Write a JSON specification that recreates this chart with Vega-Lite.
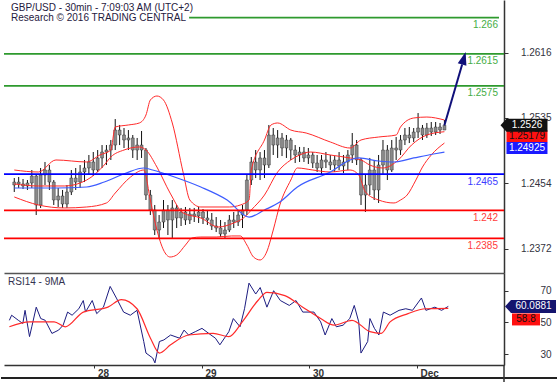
{
"$schema":"https://vega.github.io/schema/vega-lite/v6.json",
"padding":0,
"background":"#ffffff",
"spacing":0,
"config":{"view":{"stroke":null},"font":"Liberation Sans","text":{"font":"Liberation Sans"}},
"datasets":{
"bars":[
{"t":"2016-11-27T05:00","open":1.24515,"high":1.24602,"low":1.24428,"close":1.24552},
{"t":"2016-11-27T06:00","open":1.24552,"high":1.24615,"low":1.24478,"close":1.24528},
{"t":"2016-11-27T07:00","open":1.24528,"high":1.2459,"low":1.24465,"close":1.24503},
{"t":"2016-11-27T08:00","open":1.24503,"high":1.24577,"low":1.24453,"close":1.2454},
{"t":"2016-11-27T09:00","open":1.2454,"high":1.24702,"low":1.24478,"close":1.24627},
{"t":"2016-11-27T10:00","open":1.24627,"high":1.2464,"low":1.24141,"close":1.24266},
{"t":"2016-11-27T11:00","open":1.24266,"high":1.24727,"low":1.24229,"close":1.2464},
{"t":"2016-11-27T12:00","open":1.2464,"high":1.24802,"low":1.24515,"close":1.24702},
{"t":"2016-11-27T13:00","open":1.24702,"high":1.24764,"low":1.24453,"close":1.24552},
{"t":"2016-11-27T14:00","open":1.24552,"high":1.24577,"low":1.24266,"close":1.24328},
{"t":"2016-11-27T15:00","open":1.24328,"high":1.24478,"low":1.24241,"close":1.24378},
{"t":"2016-11-27T16:00","open":1.24378,"high":1.24453,"low":1.24229,"close":1.24278},
{"t":"2016-11-27T17:00","open":1.24278,"high":1.24515,"low":1.24229,"close":1.24428},
{"t":"2016-11-27T18:00","open":1.24428,"high":1.24702,"low":1.2439,"close":1.24602},
{"t":"2016-11-27T19:00","open":1.24602,"high":1.24727,"low":1.24453,"close":1.24552},
{"t":"2016-11-27T20:00","open":1.24552,"high":1.24764,"low":1.24478,"close":1.24677},
{"t":"2016-11-27T21:00","open":1.24677,"high":1.24827,"low":1.24552,"close":1.24727},
{"t":"2016-11-27T22:00","open":1.24727,"high":1.24889,"low":1.2464,"close":1.24802},
{"t":"2016-11-27T23:00","open":1.24802,"high":1.24926,"low":1.24627,"close":1.24702},
{"t":"2016-11-28T00:00","open":1.24702,"high":1.24951,"low":1.24677,"close":1.24852},
{"t":"2016-11-28T01:00","open":1.24852,"high":1.25013,"low":1.24727,"close":1.24926},
{"t":"2016-11-28T02:00","open":1.24926,"high":1.25013,"low":1.24764,"close":1.24951},
{"t":"2016-11-28T03:00","open":1.24951,"high":1.25076,"low":1.24827,"close":1.25013},
{"t":"2016-11-28T04:00","open":1.25013,"high":1.25337,"low":1.24951,"close":1.252},
{"t":"2016-11-28T05:00","open":1.252,"high":1.25263,"low":1.25013,"close":1.25138},
{"t":"2016-11-28T06:00","open":1.25138,"high":1.25225,"low":1.24976,"close":1.25076},
{"t":"2016-11-28T07:00","open":1.25076,"high":1.252,"low":1.24951,"close":1.25101},
{"t":"2016-11-28T08:00","open":1.25101,"high":1.25138,"low":1.24852,"close":1.24951},
{"t":"2016-11-28T09:00","open":1.24951,"high":1.25101,"low":1.24827,"close":1.25013},
{"t":"2016-11-28T10:00","open":1.25013,"high":1.25188,"low":1.24852,"close":1.24951},
{"t":"2016-11-28T11:00","open":1.24951,"high":1.24976,"low":1.24328,"close":1.2439},
{"t":"2016-11-28T12:00","open":1.2439,"high":1.24453,"low":1.24141,"close":1.24204},
{"t":"2016-11-28T13:00","open":1.24204,"high":1.24266,"low":1.23892,"close":1.23954},
{"t":"2016-11-28T14:00","open":1.23954,"high":1.24141,"low":1.23855,"close":1.24054},
{"t":"2016-11-28T15:00","open":1.24054,"high":1.24328,"low":1.23979,"close":1.24204},
{"t":"2016-11-28T16:00","open":1.24204,"high":1.24266,"low":1.23892,"close":1.24079},
{"t":"2016-11-28T17:00","open":1.24079,"high":1.24328,"low":1.23855,"close":1.24229},
{"t":"2016-11-28T18:00","open":1.24229,"high":1.24266,"low":1.23979,"close":1.24104},
{"t":"2016-11-28T19:00","open":1.24104,"high":1.24229,"low":1.24004,"close":1.24179},
{"t":"2016-11-28T20:00","open":1.24179,"high":1.24241,"low":1.24017,"close":1.24079},
{"t":"2016-11-28T21:00","open":1.24079,"high":1.24229,"low":1.24029,"close":1.24154},
{"t":"2016-11-28T22:00","open":1.24154,"high":1.24229,"low":1.24054,"close":1.24129},
{"t":"2016-11-28T23:00","open":1.24129,"high":1.24241,"low":1.24042,"close":1.24179},
{"t":"2016-11-29T00:00","open":1.24179,"high":1.24216,"low":1.24029,"close":1.24104},
{"t":"2016-11-29T01:00","open":1.24104,"high":1.24204,"low":1.24017,"close":1.24079},
{"t":"2016-11-29T02:00","open":1.24079,"high":1.24166,"low":1.23954,"close":1.24004},
{"t":"2016-11-29T03:00","open":1.24004,"high":1.24116,"low":1.23929,"close":1.23979},
{"t":"2016-11-29T04:00","open":1.23979,"high":1.24079,"low":1.23867,"close":1.23905},
{"t":"2016-11-29T05:00","open":1.23905,"high":1.24054,"low":1.23855,"close":1.23954},
{"t":"2016-11-29T06:00","open":1.23954,"high":1.24141,"low":1.23929,"close":1.24079},
{"t":"2016-11-29T07:00","open":1.24079,"high":1.24179,"low":1.23979,"close":1.24054},
{"t":"2016-11-29T08:00","open":1.24054,"high":1.24204,"low":1.24004,"close":1.24141},
{"t":"2016-11-29T09:00","open":1.24141,"high":1.24266,"low":1.23979,"close":1.24204},
{"t":"2016-11-29T10:00","open":1.24204,"high":1.2464,"low":1.24141,"close":1.24577},
{"t":"2016-11-29T11:00","open":1.24577,"high":1.24864,"low":1.24515,"close":1.24802},
{"t":"2016-11-29T12:00","open":1.24802,"high":1.24951,"low":1.24602,"close":1.24702},
{"t":"2016-11-29T13:00","open":1.24702,"high":1.24926,"low":1.24577,"close":1.24852},
{"t":"2016-11-29T14:00","open":1.24852,"high":1.24951,"low":1.24602,"close":1.24764},
{"t":"2016-11-29T15:00","open":1.24764,"high":1.25263,"low":1.24727,"close":1.25138},
{"t":"2016-11-29T16:00","open":1.25138,"high":1.25225,"low":1.24889,"close":1.25013},
{"t":"2016-11-29T17:00","open":1.25013,"high":1.252,"low":1.24852,"close":1.25101},
{"t":"2016-11-29T18:00","open":1.25101,"high":1.25163,"low":1.24876,"close":1.24976},
{"t":"2016-11-29T19:00","open":1.24976,"high":1.25138,"low":1.24852,"close":1.25076},
{"t":"2016-11-29T20:00","open":1.25076,"high":1.25101,"low":1.24827,"close":1.24951},
{"t":"2016-11-29T21:00","open":1.24951,"high":1.25013,"low":1.24789,"close":1.24889},
{"t":"2016-11-29T22:00","open":1.24889,"high":1.24989,"low":1.24802,"close":1.24926},
{"t":"2016-11-29T23:00","open":1.24926,"high":1.24989,"low":1.24802,"close":1.24852},
{"t":"2016-11-30T00:00","open":1.24852,"high":1.24976,"low":1.24777,"close":1.24889},
{"t":"2016-11-30T01:00","open":1.24889,"high":1.24926,"low":1.24727,"close":1.24789},
{"t":"2016-11-30T02:00","open":1.24789,"high":1.24889,"low":1.24677,"close":1.24727},
{"t":"2016-11-30T03:00","open":1.24727,"high":1.24889,"low":1.24652,"close":1.24827},
{"t":"2016-11-30T04:00","open":1.24827,"high":1.24926,"low":1.24727,"close":1.24802},
{"t":"2016-11-30T05:00","open":1.24802,"high":1.24889,"low":1.24702,"close":1.24764},
{"t":"2016-11-30T06:00","open":1.24764,"high":1.24876,"low":1.24677,"close":1.24827},
{"t":"2016-11-30T07:00","open":1.24827,"high":1.24926,"low":1.24702,"close":1.24752},
{"t":"2016-11-30T08:00","open":1.24752,"high":1.24889,"low":1.24665,"close":1.24802},
{"t":"2016-11-30T09:00","open":1.24802,"high":1.24951,"low":1.24702,"close":1.24889},
{"t":"2016-11-30T10:00","open":1.24889,"high":1.25163,"low":1.24789,"close":1.25013},
{"t":"2016-11-30T11:00","open":1.25013,"high":1.25076,"low":1.24764,"close":1.24827},
{"t":"2016-11-30T12:00","open":1.24827,"high":1.24852,"low":1.24266,"close":1.2439},
{"t":"2016-11-30T13:00","open":1.2439,"high":1.2464,"low":1.24179,"close":1.24515},
{"t":"2016-11-30T14:00","open":1.24515,"high":1.24852,"low":1.2439,"close":1.24702},
{"t":"2016-11-30T15:00","open":1.24702,"high":1.24827,"low":1.24328,"close":1.24453},
{"t":"2016-11-30T16:00","open":1.24453,"high":1.24889,"low":1.24291,"close":1.24764},
{"t":"2016-11-30T17:00","open":1.24764,"high":1.25076,"low":1.2464,"close":1.24951},
{"t":"2016-11-30T18:00","open":1.24951,"high":1.25013,"low":1.24577,"close":1.24702},
{"t":"2016-11-30T19:00","open":1.24702,"high":1.25076,"low":1.24677,"close":1.24976},
{"t":"2016-11-30T20:00","open":1.24976,"high":1.25113,"low":1.24827,"close":1.24951},
{"t":"2016-11-30T21:00","open":1.24951,"high":1.25138,"low":1.24889,"close":1.25076},
{"t":"2016-11-30T22:00","open":1.25076,"high":1.25225,"low":1.25013,"close":1.25138},
{"t":"2016-11-30T23:00","open":1.25138,"high":1.25238,"low":1.25038,"close":1.25101},
{"t":"2016-12-01T00:00","open":1.25101,"high":1.25225,"low":1.25051,"close":1.25175},
{"t":"2016-12-01T01:00","open":1.25175,"high":1.25412,"low":1.25101,"close":1.25225},
{"t":"2016-12-01T02:00","open":1.25225,"high":1.25263,"low":1.25076,"close":1.25138},
{"t":"2016-12-01T03:00","open":1.25138,"high":1.25288,"low":1.25101,"close":1.25225},
{"t":"2016-12-01T04:00","open":1.25225,"high":1.253,"low":1.25126,"close":1.25175},
{"t":"2016-12-01T05:00","open":1.25175,"high":1.253,"low":1.25138,"close":1.25238},
{"t":"2016-12-01T06:00","open":1.25238,"high":1.25288,"low":1.25151,"close":1.252},
{"t":"2016-12-01T07:00","open":1.252,"high":1.25325,"low":1.252,"close":1.2526}
],
"upper":[
{"t":"2016-11-27T05:00","v":1.24702},{"t":"2016-11-27T10:30","v":1.24677},{"t":"2016-11-27T14:30","v":1.24827},{"t":"2016-11-27T21:30","v":1.24802},{"t":"2016-11-28T00:30","v":1.24889},{"t":"2016-11-28T03:00","v":1.24951},{"t":"2016-11-28T04:00","v":1.25238},{"t":"2016-11-28T07:00","v":1.25263},{"t":"2016-11-28T09:30","v":1.25288},{"t":"2016-11-28T11:00","v":1.25387},{"t":"2016-11-28T12:00","v":1.25574},{"t":"2016-11-28T13:30","v":1.25624},{"t":"2016-11-28T15:00","v":1.25574},{"t":"2016-11-28T17:00","v":1.25288},{"t":"2016-11-28T19:30","v":1.24665},{"t":"2016-11-28T21:00","v":1.24328},{"t":"2016-11-28T23:30","v":1.24241},{"t":"2016-11-29T06:00","v":1.24241},{"t":"2016-11-29T08:30","v":1.24266},{"t":"2016-11-29T10:30","v":1.24328},{"t":"2016-11-29T11:00","v":1.24702},{"t":"2016-11-29T14:00","v":1.25076},{"t":"2016-11-29T15:30","v":1.25263},{"t":"2016-11-29T17:00","v":1.25288},{"t":"2016-11-29T20:00","v":1.252},{"t":"2016-11-29T23:30","v":1.25163},{"t":"2016-11-30T05:00","v":1.25051},{"t":"2016-11-30T09:30","v":1.24976},{"t":"2016-11-30T12:00","v":1.25076},{"t":"2016-11-30T16:00","v":1.25113},{"t":"2016-11-30T20:00","v":1.25138},{"t":"2016-11-30T21:00","v":1.25238},{"t":"2016-12-01T00:00","v":1.2535},{"t":"2016-12-01T03:00","v":1.25362},{"t":"2016-12-01T07:00","v":1.25325}
],
"middle":[
{"t":"2016-11-27T05:00","v":1.24528},{"t":"2016-11-27T10:30","v":1.24503},{"t":"2016-11-27T16:30","v":1.24503},{"t":"2016-11-27T21:30","v":1.24577},{"t":"2016-11-28T01:30","v":1.24764},{"t":"2016-11-28T03:00","v":1.24864},{"t":"2016-11-28T06:00","v":1.24951},{"t":"2016-11-28T09:30","v":1.24989},{"t":"2016-11-28T11:00","v":1.24951},{"t":"2016-11-28T13:30","v":1.24739},{"t":"2016-11-28T16:30","v":1.24415},{"t":"2016-11-28T19:30","v":1.24166},{"t":"2016-11-28T23:30","v":1.24104},{"t":"2016-11-29T03:30","v":1.23992},{"t":"2016-11-29T07:00","v":1.24042},{"t":"2016-11-29T09:30","v":1.24116},{"t":"2016-11-29T11:00","v":1.24204},{"t":"2016-11-29T14:00","v":1.2439},{"t":"2016-11-29T17:00","v":1.24677},{"t":"2016-11-29T20:00","v":1.24827},{"t":"2016-11-29T22:00","v":1.24889},{"t":"2016-11-30T00:30","v":1.24926},{"t":"2016-11-30T05:00","v":1.24889},{"t":"2016-11-30T09:30","v":1.24852},{"t":"2016-11-30T12:00","v":1.24827},{"t":"2016-11-30T14:00","v":1.24764},{"t":"2016-11-30T17:00","v":1.24727},{"t":"2016-11-30T20:30","v":1.24827},{"t":"2016-11-30T23:30","v":1.25013},{"t":"2016-12-01T03:00","v":1.25138},{"t":"2016-12-01T07:00","v":1.25179}
],
"lower":[
{"t":"2016-11-27T05:00","v":1.24366},{"t":"2016-11-27T10:30","v":1.24266},{"t":"2016-11-27T16:30","v":1.24229},{"t":"2016-11-27T21:30","v":1.24241},{"t":"2016-11-28T02:00","v":1.24291},{"t":"2016-11-28T04:00","v":1.24415},{"t":"2016-11-28T07:30","v":1.24615},{"t":"2016-11-28T10:30","v":1.24702},{"t":"2016-11-28T12:00","v":1.24328},{"t":"2016-11-28T13:30","v":1.23954},{"t":"2016-11-28T15:00","v":1.23705},{"t":"2016-11-28T16:30","v":1.23618},{"t":"2016-11-28T18:00","v":1.23643},{"t":"2016-11-28T20:00","v":1.23767},{"t":"2016-11-28T21:30","v":1.23855},{"t":"2016-11-28T23:30","v":1.23867},{"t":"2016-11-29T03:00","v":1.23867},{"t":"2016-11-29T06:30","v":1.2388},{"t":"2016-11-29T08:30","v":1.2388},{"t":"2016-11-29T10:00","v":1.23767},{"t":"2016-11-29T11:30","v":1.23618},{"t":"2016-11-29T13:00","v":1.23581},{"t":"2016-11-29T14:30","v":1.2368},{"t":"2016-11-29T16:00","v":1.23954},{"t":"2016-11-29T17:30","v":1.24266},{"t":"2016-11-29T20:00","v":1.24577},{"t":"2016-11-29T21:30","v":1.24727},{"t":"2016-11-30T01:00","v":1.24702},{"t":"2016-11-30T05:00","v":1.24677},{"t":"2016-11-30T09:30","v":1.24702},{"t":"2016-11-30T11:30","v":1.2464},{"t":"2016-11-30T13:00","v":1.24428},{"t":"2016-11-30T16:00","v":1.24328},{"t":"2016-11-30T19:30","v":1.24291},{"t":"2016-11-30T21:00","v":1.24328},{"t":"2016-11-30T22:30","v":1.2439},{"t":"2016-12-01T00:30","v":1.24577},{"t":"2016-12-01T02:00","v":1.24739},{"t":"2016-12-01T04:00","v":1.24889},{"t":"2016-12-01T07:00","v":1.25038}
],
"ma":[
{"t":"2016-11-27T05:00","v":1.24478},{"t":"2016-11-27T14:30","v":1.24478},{"t":"2016-11-27T21:30","v":1.2449},{"t":"2016-11-28T01:30","v":1.24552},{"t":"2016-11-28T06:30","v":1.24665},{"t":"2016-11-28T10:30","v":1.24727},{"t":"2016-11-28T12:30","v":1.24702},{"t":"2016-11-28T17:30","v":1.24615},{"t":"2016-11-28T23:30","v":1.2449},{"t":"2016-11-29T05:30","v":1.24328},{"t":"2016-11-29T10:30","v":1.24116},{"t":"2016-11-29T14:00","v":1.24204},{"t":"2016-11-29T17:30","v":1.24303},{"t":"2016-11-29T21:30","v":1.2449},{"t":"2016-11-30T05:00","v":1.24677},{"t":"2016-11-30T09:30","v":1.24827},{"t":"2016-11-30T11:30","v":1.24852},{"t":"2016-11-30T16:00","v":1.24814},{"t":"2016-11-30T19:30","v":1.24802},{"t":"2016-12-01T00:00","v":1.24852},{"t":"2016-12-01T04:30","v":1.24901},{"t":"2016-12-01T07:00","v":1.24925}
],
"levels":[
{"v":1.266,"type":"resistance"},{"v":1.2615,"type":"resistance"},{"v":1.2575,"type":"resistance"},{"v":1.2465,"type":"pivot"},{"v":1.242,"type":"support"},{"v":1.2385,"type":"support"}
],
"arrow":[{"t":"2016-12-01T07:00","v":1.2526},{"t":"2016-12-01T11:02","v":1.26017}],
"arrowTip":[{"t":"2016-12-01T11:50","v":1.26172}],
"rsi":[
{"t":"2016-11-27T05:00","v":51.3},{"t":"2016-11-27T05:30","v":54.5},{"t":"2016-11-27T07:00","v":51.3},{"t":"2016-11-27T08:00","v":49.3},{"t":"2016-11-27T08:30","v":57.6},{"t":"2016-11-27T09:30","v":41},{"t":"2016-11-27T10:00","v":47.2},{"t":"2016-11-27T11:00","v":59.6},{"t":"2016-11-27T12:00","v":52.4},{"t":"2016-11-27T13:00","v":51.3},{"t":"2016-11-27T14:30","v":43},{"t":"2016-11-27T16:00","v":45.1},{"t":"2016-11-27T17:00","v":48.2},{"t":"2016-11-27T18:00","v":56.5},{"t":"2016-11-27T19:00","v":54.5},{"t":"2016-11-27T20:30","v":58.6},{"t":"2016-11-27T21:30","v":63.8},{"t":"2016-11-27T22:00","v":56.5},{"t":"2016-11-27T23:30","v":63.8},{"t":"2016-11-28T00:30","v":55.5},{"t":"2016-11-28T02:00","v":59.6},{"t":"2016-11-28T03:30","v":72.7},{"t":"2016-11-28T05:00","v":64.8},{"t":"2016-11-28T06:30","v":56.5},{"t":"2016-11-28T08:00","v":54.5},{"t":"2016-11-28T09:30","v":57.6},{"t":"2016-11-28T11:00","v":37.9},{"t":"2016-11-28T11:30","v":30.6},{"t":"2016-11-28T13:00","v":27.5},{"t":"2016-11-28T13:30","v":24.4},{"t":"2016-11-28T14:30","v":37.9},{"t":"2016-11-28T15:30","v":38.9},{"t":"2016-11-28T17:00","v":42},{"t":"2016-11-28T19:00","v":40},{"t":"2016-11-28T20:00","v":45.1},{"t":"2016-11-28T21:00","v":42},{"t":"2016-11-28T22:30","v":44.1},{"t":"2016-11-29T00:00","v":46.2},{"t":"2016-11-29T02:00","v":42},{"t":"2016-11-29T03:00","v":40},{"t":"2016-11-29T04:00","v":35.8},{"t":"2016-11-29T06:00","v":44.1},{"t":"2016-11-29T07:00","v":52.4},{"t":"2016-11-29T08:30","v":47.2},{"t":"2016-11-29T09:30","v":58.6},{"t":"2016-11-29T10:30","v":74.8},{"t":"2016-11-29T12:00","v":67.9},{"t":"2016-11-29T13:00","v":72},{"t":"2016-11-29T14:30","v":59.6},{"t":"2016-11-29T16:00","v":70},{"t":"2016-11-29T17:30","v":63.8},{"t":"2016-11-29T19:30","v":60.7},{"t":"2016-11-29T21:00","v":63.8},{"t":"2016-11-29T22:30","v":56.5},{"t":"2016-11-30T01:00","v":56.5},{"t":"2016-11-30T02:30","v":50.3},{"t":"2016-11-30T03:30","v":42},{"t":"2016-11-30T05:00","v":52.4},{"t":"2016-11-30T06:00","v":47.2},{"t":"2016-11-30T07:30","v":48.2},{"t":"2016-11-30T09:00","v":52.4},{"t":"2016-11-30T10:00","v":60.7},{"t":"2016-11-30T11:00","v":50.3},{"t":"2016-11-30T11:30","v":30.6},{"t":"2016-11-30T13:00","v":37.9},{"t":"2016-11-30T13:30","v":52.4},{"t":"2016-11-30T14:30","v":46.2},{"t":"2016-11-30T15:30","v":42},{"t":"2016-11-30T16:30","v":56.5},{"t":"2016-11-30T18:00","v":54.5},{"t":"2016-11-30T20:00","v":57.6},{"t":"2016-11-30T21:30","v":58.6},{"t":"2016-11-30T23:00","v":57.6},{"t":"2016-12-01T01:00","v":65.4},{"t":"2016-12-01T02:00","v":57.6},{"t":"2016-12-01T04:00","v":59.6},{"t":"2016-12-01T05:30","v":57.6},{"t":"2016-12-01T07:00","v":60.0881}
],
"rsima":[
{"t":"2016-11-27T05:00","v":47.2},{"t":"2016-11-27T09:30","v":50.3},{"t":"2016-11-27T15:00","v":50.3},{"t":"2016-11-27T17:30","v":47.2},{"t":"2016-11-27T21:30","v":56.5},{"t":"2016-11-28T03:00","v":59.6},{"t":"2016-11-28T06:00","v":64.4},{"t":"2016-11-28T09:30","v":58.6},{"t":"2016-11-28T12:30","v":40},{"t":"2016-11-28T14:30","v":30.6},{"t":"2016-11-28T17:00","v":35.8},{"t":"2016-11-28T21:00","v":42},{"t":"2016-11-29T02:30","v":43},{"t":"2016-11-29T06:00","v":41},{"t":"2016-11-29T09:00","v":50.3},{"t":"2016-11-29T12:30","v":63.8},{"t":"2016-11-29T14:30","v":69},{"t":"2016-11-29T18:30","v":66.9},{"t":"2016-11-29T22:30","v":59.6},{"t":"2016-11-30T02:30","v":52.4},{"t":"2016-11-30T05:30","v":48.2},{"t":"2016-11-30T09:30","v":51.3},{"t":"2016-11-30T13:30","v":44.1},{"t":"2016-11-30T16:00","v":43},{"t":"2016-11-30T18:00","v":50.3},{"t":"2016-11-30T22:00","v":55.5},{"t":"2016-12-01T02:00","v":58.6},{"t":"2016-12-01T07:00","v":58.8}
]
},
"vconcat":[
{
"width":500,"height":273,
"data":{"values":[{}]},
"layer":[
{"data":{"name":"bars"},"mark":{"type":"rule","color":"#111111","strokeWidth":1},
 "encoding":{
  "x":{"field":"t","type":"temporal","scale":{"domain":[{"year":2016,"month":11,"date":27,"hours":3,"minutes":48},{"year":2016,"month":12,"date":1,"hours":19,"minutes":26}]},
       "axis":{"orient":"bottom","labels":false,"ticks":false,"domain":true,"domainColor":"#555555","domainWidth":1.5,"title":null,"grid":false}},
  "y":{"field":"low","type":"quantitative","scale":{"domain":[1.234185,1.268204],"nice":false,"zero":false},
       "axis":{"orient":"right","values":[1.2372,1.2454,1.2535,1.2616],"format":".4f","title":null,"grid":false,"domainColor":"#333333","domainWidth":1.5,"tickColor":"#333333","tickSize":4,"labelAlign":"right","labelBaseline":"middle","labelPadding":43,"labelFontSize":10,"labelColor":"#333340","labelFlush":false,"labelOverlap":false}},
  "y2":{"field":"high"}}},
{"data":{"name":"bars"},"mark":{"type":"bar","width":3,"color":"#8a8a8a","stroke":"#222222","strokeWidth":0.4},
 "encoding":{
  "x":{"field":"t","type":"temporal","scale":{"domain":[{"year":2016,"month":11,"date":27,"hours":3,"minutes":48},{"year":2016,"month":12,"date":1,"hours":19,"minutes":26}]}},
  "y":{"field":"open","type":"quantitative","scale":{"domain":[1.234185,1.268204],"nice":false,"zero":false}},
  "y2":{"field":"close"}}},
{"data":{"name":"upper"},"mark":{"type":"line","color":"#ff2a2a","strokeWidth":1,"interpolate":"monotone"},
 "encoding":{"x":{"field":"t","type":"temporal","scale":{"domain":[{"year":2016,"month":11,"date":27,"hours":3,"minutes":48},{"year":2016,"month":12,"date":1,"hours":19,"minutes":26}]}},
  "y":{"field":"v","type":"quantitative","scale":{"domain":[1.234185,1.268204],"nice":false,"zero":false}}}},
{"data":{"name":"middle"},"mark":{"type":"line","color":"#ff2a2a","strokeWidth":1,"interpolate":"monotone"},
 "encoding":{"x":{"field":"t","type":"temporal","scale":{"domain":[{"year":2016,"month":11,"date":27,"hours":3,"minutes":48},{"year":2016,"month":12,"date":1,"hours":19,"minutes":26}]}},
  "y":{"field":"v","type":"quantitative","scale":{"domain":[1.234185,1.268204],"nice":false,"zero":false}}}},
{"data":{"name":"lower"},"mark":{"type":"line","color":"#ff2a2a","strokeWidth":1,"interpolate":"monotone"},
 "encoding":{"x":{"field":"t","type":"temporal","scale":{"domain":[{"year":2016,"month":11,"date":27,"hours":3,"minutes":48},{"year":2016,"month":12,"date":1,"hours":19,"minutes":26}]}},
  "y":{"field":"v","type":"quantitative","scale":{"domain":[1.234185,1.268204],"nice":false,"zero":false}}}},
{"data":{"name":"ma"},"mark":{"type":"line","color":"#3d5cff","strokeWidth":1.2,"interpolate":"monotone"},
 "encoding":{"x":{"field":"t","type":"temporal","scale":{"domain":[{"year":2016,"month":11,"date":27,"hours":3,"minutes":48},{"year":2016,"month":12,"date":1,"hours":19,"minutes":26}]}},
  "y":{"field":"v","type":"quantitative","scale":{"domain":[1.234185,1.268204],"nice":false,"zero":false}}}},
{"data":{"name":"levels"},"transform":[{"filter":"datum.v != 1.266"}],"mark":{"type":"rule","strokeWidth":1.8},
 "encoding":{"y":{"field":"v","type":"quantitative","scale":{"domain":[1.234185,1.268204],"nice":false,"zero":false}},
  "stroke":{"field":"type","type":"nominal","scale":{"domain":["resistance","pivot","support"],"range":["#2e9a2e","#0000ff","#ff0000"]},"legend":null}}},
{"data":{"name":"levels"},"transform":[{"filter":"datum.v == 1.266"}],"mark":{"type":"rule","strokeWidth":1.8,"color":"#2e9a2e"},
 "encoding":{"x":{"datum":{"year":2016,"month":11,"date":28,"hours":20,"minutes":50},"type":"temporal","scale":{"domain":[{"year":2016,"month":11,"date":27,"hours":3,"minutes":48},{"year":2016,"month":12,"date":1,"hours":19,"minutes":26}]}},
  "x2":{"datum":{"year":2016,"month":12,"date":1,"hours":19,"minutes":26}},
  "y":{"field":"v","type":"quantitative","scale":{"domain":[1.234185,1.268204],"nice":false,"zero":false}}}},
{"data":{"name":"levels"},"mark":{"type":"text","align":"right","baseline":"top","dx":-1,"dy":2.5,"fontSize":10},
 "encoding":{"x":{"datum":{"year":2016,"month":12,"date":1,"hours":19,"minutes":26},"type":"temporal","scale":{"domain":[{"year":2016,"month":11,"date":27,"hours":3,"minutes":48},{"year":2016,"month":12,"date":1,"hours":19,"minutes":26}]}},
  "y":{"field":"v","type":"quantitative","scale":{"domain":[1.234185,1.268204],"nice":false,"zero":false}},
  "text":{"field":"v","type":"quantitative","format":"~g"},
  "fill":{"field":"type","type":"nominal","scale":{"domain":["resistance","pivot","support"],"range":["#45ad45","#3c3cff","#ff3c3c"]},"legend":null}}},
{"data":{"name":"arrow"},"mark":{"type":"line","color":"#10107a","strokeWidth":2},
 "encoding":{"x":{"field":"t","type":"temporal","scale":{"domain":[{"year":2016,"month":11,"date":27,"hours":3,"minutes":48},{"year":2016,"month":12,"date":1,"hours":19,"minutes":26}]}},
  "y":{"field":"v","type":"quantitative","scale":{"domain":[1.234185,1.268204],"nice":false,"zero":false}}}},
{"data":{"name":"arrowTip"},"mark":{"type":"point","shape":"M0,0L4.5,13L-4.5,13Z","size":4,"angle":16,"filled":true,"opacity":1,"color":"#10107a"},
 "encoding":{"x":{"field":"t","type":"temporal","scale":{"domain":[{"year":2016,"month":11,"date":27,"hours":3,"minutes":48},{"year":2016,"month":12,"date":1,"hours":19,"minutes":26}]}},
  "y":{"field":"v","type":"quantitative","scale":{"domain":[1.234185,1.268204],"nice":false,"zero":false}}}},
{"mark":{"type":"text","text":"GBP/USD - 30min - 7:09:03 AM (UTC+2)","align":"left","baseline":"alphabetic","dx":2,"fontSize":10,"color":"#1f2040"},
 "encoding":{"x":{"datum":{"year":2016,"month":11,"date":27,"hours":3,"minutes":48},"type":"temporal","scale":{"domain":[{"year":2016,"month":11,"date":27,"hours":3,"minutes":48},{"year":2016,"month":12,"date":1,"hours":19,"minutes":26}]}},
  "y":{"datum":1.26687,"type":"quantitative","scale":{"domain":[1.234185,1.268204],"nice":false,"zero":false}}}},
{"mark":{"type":"text","text":"Research © 2016 TRADING CENTRAL","align":"left","baseline":"alphabetic","dx":2,"fontSize":10,"color":"#1f2040"},
 "encoding":{"x":{"datum":{"year":2016,"month":11,"date":27,"hours":3,"minutes":48},"type":"temporal","scale":{"domain":[{"year":2016,"month":11,"date":27,"hours":3,"minutes":48},{"year":2016,"month":12,"date":1,"hours":19,"minutes":26}]}},
  "y":{"datum":1.26562,"type":"quantitative","scale":{"domain":[1.234185,1.268204],"nice":false,"zero":false}}}},
{"mark":{"type":"point","shape":"M-19,-6L22,-6L22,6L-19,6Z","size":4,"filled":true,"opacity":1,"color":"#ff1010","yOffset":4.5},
 "encoding":{"x":{"datum":{"year":2016,"month":12,"date":2,"hours":1,"minutes":28},"type":"temporal","scale":{"domain":[{"year":2016,"month":11,"date":27,"hours":3,"minutes":48},{"year":2016,"month":12,"date":1,"hours":19,"minutes":26}]}},
  "y":{"datum":1.25179,"type":"quantitative","scale":{"domain":[1.234185,1.268204],"nice":false,"zero":false}}}},
{"mark":{"type":"text","text":"1.25179","align":"center","baseline":"middle","dx":1.5,"yOffset":4.5,"fontSize":10,"color":"#111111"},
 "encoding":{"x":{"datum":{"year":2016,"month":12,"date":2,"hours":1,"minutes":28},"type":"temporal","scale":{"domain":[{"year":2016,"month":11,"date":27,"hours":3,"minutes":48},{"year":2016,"month":12,"date":1,"hours":19,"minutes":26}]}},
  "y":{"datum":1.25179,"type":"quantitative","scale":{"domain":[1.234185,1.268204],"nice":false,"zero":false}}}},
{"mark":{"type":"point","shape":"M-19,-6L22,-6L22,6L-19,6Z","size":4,"filled":true,"opacity":1,"color":"#1a1aff","yOffset":-4},
 "encoding":{"x":{"datum":{"year":2016,"month":12,"date":2,"hours":1,"minutes":28},"type":"temporal","scale":{"domain":[{"year":2016,"month":11,"date":27,"hours":3,"minutes":48},{"year":2016,"month":12,"date":1,"hours":19,"minutes":26}]}},
  "y":{"datum":1.24925,"type":"quantitative","scale":{"domain":[1.234185,1.268204],"nice":false,"zero":false}}}},
{"mark":{"type":"text","text":"1.24925","align":"center","baseline":"middle","dx":1.5,"yOffset":-4,"fontSize":10,"color":"#ffffff"},
 "encoding":{"x":{"datum":{"year":2016,"month":12,"date":2,"hours":1,"minutes":28},"type":"temporal","scale":{"domain":[{"year":2016,"month":11,"date":27,"hours":3,"minutes":48},{"year":2016,"month":12,"date":1,"hours":19,"minutes":26}]}},
  "y":{"datum":1.24925,"type":"quantitative","scale":{"domain":[1.234185,1.268204],"nice":false,"zero":false}}}},
{"mark":{"type":"point","shape":"M-25,0L-19,-6.5L22,-6.5L22,6.5L-19,6.5Z","size":4,"filled":true,"opacity":1,"color":"#111111"},
 "encoding":{"x":{"datum":{"year":2016,"month":12,"date":2,"hours":1,"minutes":28},"type":"temporal","scale":{"domain":[{"year":2016,"month":11,"date":27,"hours":3,"minutes":48},{"year":2016,"month":12,"date":1,"hours":19,"minutes":26}]}},
  "y":{"datum":1.2526,"type":"quantitative","scale":{"domain":[1.234185,1.268204],"nice":false,"zero":false}}}},
{"mark":{"type":"text","text":"1.2526","align":"center","baseline":"middle","dx":1.5,"fontSize":10,"color":"#ffffff"},
 "encoding":{"x":{"datum":{"year":2016,"month":12,"date":2,"hours":1,"minutes":28},"type":"temporal","scale":{"domain":[{"year":2016,"month":11,"date":27,"hours":3,"minutes":48},{"year":2016,"month":12,"date":1,"hours":19,"minutes":26}]}},
  "y":{"datum":1.2526,"type":"quantitative","scale":{"domain":[1.234185,1.268204],"nice":false,"zero":false}}}}
]
},
{
"width":500,"height":92,
"data":{"values":[{}]},
"layer":[
{"data":{"name":"rsi"},"mark":{"type":"line","color":"#1c1c80","strokeWidth":1},
 "encoding":{
  "x":{"field":"t","type":"temporal","scale":{"domain":[{"year":2016,"month":11,"date":27,"hours":3,"minutes":48},{"year":2016,"month":12,"date":1,"hours":19,"minutes":26}]},
   "axis":{"orient":"bottom","values":[{"year":2016,"month":11,"date":28},{"year":2016,"month":11,"date":29},{"year":2016,"month":11,"date":30},{"year":2016,"month":12,"date":1}],
    "labelExpr":"date(datum.value) == 1 ? timeFormat(datum.value, '%b') : timeFormat(datum.value, '%d')",
    "title":null,"grid":false,"domainColor":"#333333","domainWidth":1.5,"tickColor":"#333333","tickSize":3,"labelAlign":"left","labelBaseline":"top","labelPadding":0,"labelOffset":3,"labelFontSize":10,"labelFontWeight":"bold","labelColor":"#333333","labelFlush":false,"labelOverlap":false}},
  "y":{"field":"v","type":"quantitative","scale":{"domain":[23.05,81.19],"nice":false,"zero":false},
   "axis":{"orient":"right","values":[30,50,70],"format":"d","title":null,"grid":false,"domainColor":"#333333","domainWidth":1.5,"tickColor":"#333333","tickSize":4,"labelAlign":"right","labelBaseline":"middle","labelPadding":43,"labelFontSize":10,"labelColor":"#333340","labelFlush":false,"labelOverlap":false}}}},
{"data":{"name":"rsima"},"mark":{"type":"line","color":"#ff2a2a","strokeWidth":1.2,"interpolate":"monotone"},
 "encoding":{"x":{"field":"t","type":"temporal","scale":{"domain":[{"year":2016,"month":11,"date":27,"hours":3,"minutes":48},{"year":2016,"month":12,"date":1,"hours":19,"minutes":26}]}},
  "y":{"field":"v","type":"quantitative","scale":{"domain":[23.05,81.19],"nice":false,"zero":false}}}},
{"mark":{"type":"text","text":"RSI14 - 9MA","align":"left","baseline":"alphabetic","dx":4,"fontSize":10,"color":"#333350"},
 "encoding":{"x":{"datum":{"year":2016,"month":11,"date":27,"hours":3,"minutes":48},"type":"temporal","scale":{"domain":[{"year":2016,"month":11,"date":27,"hours":3,"minutes":48},{"year":2016,"month":12,"date":1,"hours":19,"minutes":26}]}},
  "y":{"datum":73.6,"type":"quantitative","scale":{"domain":[23.05,81.19],"nice":false,"zero":false}}}},
{"mark":{"type":"point","shape":"M-19,-6L9,-6L9,6L-19,6Z","size":4,"filled":true,"opacity":1,"color":"#ff1010","yOffset":11},
 "encoding":{"x":{"datum":{"year":2016,"month":12,"date":2,"hours":1,"minutes":28},"type":"temporal","scale":{"domain":[{"year":2016,"month":11,"date":27,"hours":3,"minutes":48},{"year":2016,"month":12,"date":1,"hours":19,"minutes":26}]}},
  "y":{"datum":58.8,"type":"quantitative","scale":{"domain":[23.05,81.19],"nice":false,"zero":false}}}},
{"mark":{"type":"text","text":"58.8","align":"center","baseline":"middle","dx":-5,"yOffset":11,"fontSize":10,"color":"#111111"},
 "encoding":{"x":{"datum":{"year":2016,"month":12,"date":2,"hours":1,"minutes":28},"type":"temporal","scale":{"domain":[{"year":2016,"month":11,"date":27,"hours":3,"minutes":48},{"year":2016,"month":12,"date":1,"hours":19,"minutes":26}]}},
  "y":{"datum":58.8,"type":"quantitative","scale":{"domain":[23.05,81.19],"nice":false,"zero":false}}}},
{"mark":{"type":"point","shape":"M-26,0L-20,-6.5L25,-6.5L25,6.5L-20,6.5Z","size":4,"filled":true,"opacity":1,"color":"#14146e"},
 "encoding":{"x":{"datum":{"year":2016,"month":12,"date":2,"hours":1,"minutes":28},"type":"temporal","scale":{"domain":[{"year":2016,"month":11,"date":27,"hours":3,"minutes":48},{"year":2016,"month":12,"date":1,"hours":19,"minutes":26}]}},
  "y":{"datum":60.0881,"type":"quantitative","scale":{"domain":[23.05,81.19],"nice":false,"zero":false}}}},
{"mark":{"type":"text","text":"60.0881","align":"center","baseline":"middle","dx":2.5,"fontSize":10,"color":"#ffffff"},
 "encoding":{"x":{"datum":{"year":2016,"month":12,"date":2,"hours":1,"minutes":28},"type":"temporal","scale":{"domain":[{"year":2016,"month":11,"date":27,"hours":3,"minutes":48},{"year":2016,"month":12,"date":1,"hours":19,"minutes":26}]}},
  "y":{"datum":60.0881,"type":"quantitative","scale":{"domain":[23.05,81.19],"nice":false,"zero":false}}}},
{"mark":{"type":"rule","color":"#222222","strokeWidth":2},
 "encoding":{"x":{"datum":{"year":2016,"month":11,"date":27,"hours":3,"minutes":8},"type":"temporal","scale":{"domain":[{"year":2016,"month":11,"date":27,"hours":3,"minutes":48},{"year":2016,"month":12,"date":1,"hours":19,"minutes":26}]}},
  "x2":{"datum":{"year":2016,"month":12,"date":2,"hours":7,"minutes":29}},
  "y":{"datum":14.83,"type":"quantitative","scale":{"domain":[23.05,81.19],"nice":false,"zero":false}}}},
{"mark":{"type":"rule","color":"#333333","strokeWidth":1.5},
 "encoding":{"x":{"datum":{"year":2016,"month":12,"date":1,"hours":19,"minutes":26},"type":"temporal","scale":{"domain":[{"year":2016,"month":11,"date":27,"hours":3,"minutes":48},{"year":2016,"month":12,"date":1,"hours":19,"minutes":26}]}},
  "y":{"datum":23.05,"type":"quantitative","scale":{"domain":[23.05,81.19],"nice":false,"zero":false}},
  "y2":{"datum":12}}}
]
}
]
}
